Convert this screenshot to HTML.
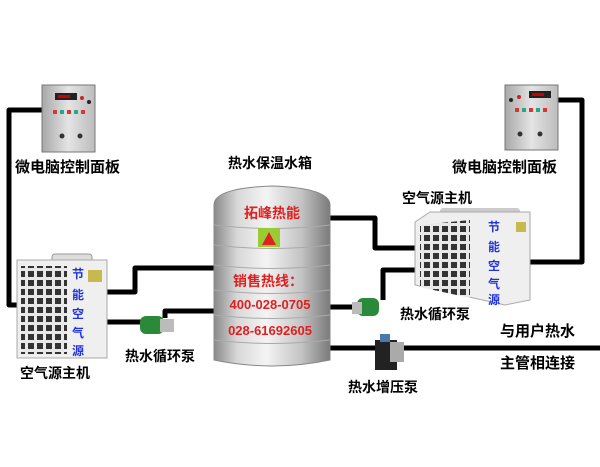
<!DOCTYPE html>
<html><head><meta charset="utf-8"><style>
body{margin:0;background:#fff;}
svg{display:block}
text{font-family:"Liberation Sans","Noto Sans CJK SC",sans-serif;font-weight:bold;}
</style></head><body>
<svg width="600" height="467" viewBox="0 0 600 467" xmlns="http://www.w3.org/2000/svg">
<defs>
<linearGradient id="tank" x1="0" x2="1">
<stop offset="0" stop-color="#8a8a8a"/><stop offset="0.2" stop-color="#d8d8d8"/><stop offset="0.45" stop-color="#f4f4f4"/><stop offset="0.75" stop-color="#c4c4c4"/><stop offset="1" stop-color="#7a7a7a"/>
</linearGradient>
<linearGradient id="box" x1="0" x2="1"><stop offset="0" stop-color="#a8a8a8"/><stop offset="0.5" stop-color="#e4e4e4"/><stop offset="1" stop-color="#bcbcbc"/></linearGradient>
<pattern id="grill" width="9" height="9" patternUnits="userSpaceOnUse"><rect width="9" height="9" fill="#e8e8e8"/><rect x="1" y="1" width="6" height="6" fill="#333"/></pattern>
</defs>
<g fill="none" stroke="#000" stroke-width="5" stroke-linejoin="round">
<path d="M42 110 H9 V305 H20"/>
<path d="M107 292 H135 V268 H214"/>
<path d="M107 322 H150"/>
<path d="M165 318 V311 H214"/>
<path d="M328 218 H375 V248 H418"/>
<path d="M328 307 H360"/>
<path d="M383 300 V270 H418"/>
<path d="M328 348 H600"/>
<path d="M530 262 H582 V100 H558"/>
</g>
<!-- control boxes -->
<g>
<rect x="42" y="85" width="53" height="67" fill="url(#box)" stroke="#777"/>
<rect x="55" y="93" width="22" height="7" fill="#222"/><rect x="58" y="95" width="12" height="3" fill="#c00"/>
<circle cx="82" cy="98" r="2" fill="#c22"/><circle cx="89" cy="102" r="2" fill="#222"/>
<g><rect x="53" y="110" width="4" height="4" fill="#d33"/><rect x="60" y="110" width="4" height="4" fill="#2a8"/><rect x="67" y="110" width="4" height="4" fill="#d33"/><rect x="74" y="110" width="4" height="4" fill="#2a8"/><rect x="81" y="110" width="4" height="4" fill="#d33"/></g>
<circle cx="62" cy="136" r="2.5" fill="#333"/><circle cx="80" cy="136" r="2.5" fill="#333"/>
<rect x="505" y="85" width="53" height="65" fill="url(#box)" stroke="#777"/>
<rect x="529" y="91" width="22" height="7" fill="#222"/><rect x="532" y="93" width="12" height="3" fill="#c00"/>
<circle cx="519" cy="97" r="2" fill="#c22"/><circle cx="511" cy="100" r="2" fill="#222"/>
<g><rect x="515" y="108" width="4" height="4" fill="#d33"/><rect x="522" y="108" width="4" height="4" fill="#2a8"/><rect x="529" y="108" width="4" height="4" fill="#d33"/><rect x="536" y="108" width="4" height="4" fill="#2a8"/><rect x="543" y="108" width="4" height="4" fill="#d33"/></g>
<circle cx="520" cy="134" r="2.5" fill="#333"/><circle cx="540" cy="134" r="2.5" fill="#333"/>
</g>
<!-- left unit -->
<rect x="52" y="254" width="40" height="8" rx="3" fill="#ddd" stroke="#999"/>
<rect x="17" y="260" width="90" height="98" fill="#efefef" stroke="#aaa"/>
<rect x="21" y="266" width="46" height="88" fill="url(#grill)"/>
<rect x="88" y="270" width="14" height="12" fill="#c8b850"/>
<g fill="#2233dd" font-size="12"><text x="72" y="278">节</text><text x="72" y="299">能</text><text x="72" y="318">空</text><text x="72" y="337">气</text><text x="72" y="355">源</text></g>
<!-- right unit -->
<rect x="440" y="208" width="80" height="8" rx="3" fill="#ccc"/>
<path d="M415 222 L430 212 H530 V300 L505 305 L415 285 Z" fill="#efefef" stroke="#aaa"/>
<path d="M420 225 L470 220 V298 L420 287 Z" fill="url(#grill)"/>
<rect x="516" y="222" width="10" height="10" fill="#c8b850"/>
<g fill="#2233dd" font-size="12"><text x="488" y="231">节</text><text x="488" y="251">能</text><text x="488" y="270">空</text><text x="488" y="288">气</text><text x="488" y="304">源</text></g>
<!-- tank -->
<path d="M214 205 Q214 188 272 186 Q330 188 330 205 V360 Q272 372 214 360 Z" fill="url(#tank)" stroke="#888"/>
<g stroke="#aaa" stroke-width="1" fill="none">
<path d="M214 225 Q272 232 330 225"/><path d="M214 245 Q272 252 330 245"/><path d="M214 265 Q272 272 330 265"/><path d="M214 290 Q272 297 330 290"/><path d="M214 315 Q272 322 330 315"/><path d="M214 340 Q272 347 330 340"/>
</g>
<rect x="258" y="228" width="22" height="19" fill="#9c3"/><path d="M262 245 L269 232 L276 245 Z" fill="#d22"/>
<g fill="#e02020" text-anchor="middle"><text x="272" y="218" font-size="14">拓峰热能</text><text x="268" y="286" font-size="14">销售热线：</text><text x="270" y="309" font-size="13">400-028-0705</text><text x="270" y="335" font-size="13">028-61692605</text></g>
<!-- pumps -->
<rect x="140" y="316" width="24" height="18" rx="6" fill="#2a8a3a"/><rect x="160" y="319" width="14" height="13" fill="#bbb"/>
<rect x="357" y="298" width="22" height="18" rx="6" fill="#2a8a3a"/><rect x="352" y="302" width="10" height="12" fill="#bbb"/>
<rect x="375" y="340" width="22" height="30" fill="#222"/><rect x="390" y="342" width="14" height="20" fill="#aaa"/><rect x="380" y="334" width="10" height="8" fill="#4a7aa8"/>
<!-- labels -->
<g fill="#000" font-size="15">
<text x="15" y="172">微电脑控制面板</text>
<text x="452" y="172">微电脑控制面板</text>
<text x="228" y="168" font-size="14">热水保温水箱</text>
<text x="402" y="203" font-size="14">空气源主机</text>
<text x="20" y="378" font-size="14">空气源主机</text>
<text x="125" y="361" font-size="14">热水循环泵</text>
<text x="400" y="319" font-size="14">热水循环泵</text>
<text x="348" y="392" font-size="14">热水增压泵</text>
<text x="500" y="336">与用户热水</text>
<text x="500" y="368">主管相连接</text>
</g>
</svg>
</body></html>
